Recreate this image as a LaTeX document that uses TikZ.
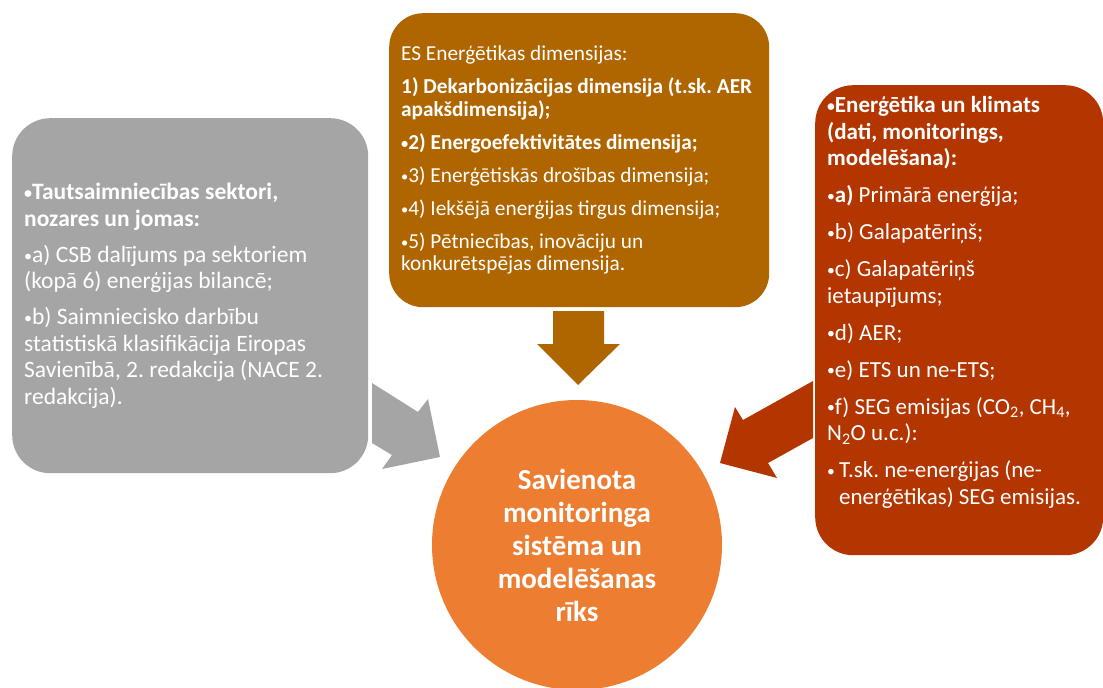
\documentclass[tikz,border=0pt]{standalone}
\usepackage{fontspec}
\setmainfont{Carlito}
\usepackage{xcolor}
\usetikzlibrary{positioning}
\definecolor{boxgray}{HTML}{A5A5A5}
\definecolor{boxbrown}{HTML}{AF6500}
\definecolor{boxred}{HTML}{B33500}
\definecolor{huborange}{HTML}{ED7D31}
\newcommand{\bul}{\raisebox{0.05em}{\scalebox{0.68}{•}}}
\tikzset{
  infobox/.style={rectangle, rounded corners=38pt, anchor=north west, inner sep=0pt},
  infotext/.style={anchor=west, text=white, align=left, inner sep=0pt},
}

\begin{document}
\frenchspacing
\begin{tikzpicture}[x=1pt, y=-1pt]
    \useasboundingbox (0,0) rectangle (1103,688);
    % bloku bultas
    \fill[boxbrown] (553,311) -- (604,311) -- (604,344) -- (620,344) -- (578,385) -- (537,344) -- (553,344) -- cycle;
    \fill[boxgray] (372,383) -- (418,412) -- (428,399) -- (440,457) -- (382,469) -- (392,455) -- (372,443) -- cycle;
    \fill[boxred] (813,381) -- (743,420) -- (735,407) -- (720,463) -- (777,478) -- (768,463) -- (813,438) -- cycle;

    % kastes
    \node[infobox, fill=boxgray, minimum width=356pt, minimum height=355pt] (sectors) at (12,118) {};
    \node[infobox, fill=boxbrown, rounded corners=34pt, minimum width=380pt, minimum height=294pt] (dims) at (389,13) {};
    \node[infobox, fill=boxred, minimum width=288pt, minimum height=470pt] (climate) at (815,85) {};

    \node[infotext, font=\fontsize{23.5}{26.5}\selectfont] (sectorstext) at ([xshift=12pt]sectors.west) {
      \textbf{\bul Tautsaimniecības sektori,}\\
      \textbf{nozares un jomas:}\\[9.5pt]
      \bul a) CSB dalījums pa sektoriem\\
      (kopā 6) enerģijas bilancē;\\[9.5pt]
      \bul b) Saimniecisko darbību\\
      statistiskā klasifikācija Eiropas\\
      Savienībā, 2. redakcija (NACE 2.\\
      redakcija).};

    \node[infotext, font=\fontsize{21.3}{22.5}\selectfont] (dimstext) at ([xshift=12pt]dims.west) {
      ES Enerģētikas dimensijas:\\[10.5pt]
      \textbf{1) Dekarbonizācijas dimensija (t.sk. AER}\\
      \textbf{apakšdimensija);}\\[10.5pt]
      \textbf{\bul 2) Energoefektivitātes dimensija;}\\[10.5pt]
      \bul 3) Enerģētiskās drošības dimensija;\\[10.5pt]
      \bul 4) Iekšējā enerģijas tirgus dimensija;\\[10.5pt]
      \bul 5) Pētniecības, inovāciju un\\
      konkurētspējas dimensija.};

    \node[infotext, font=\fontsize{23}{26.5}\selectfont] (climatetext) at ([xshift=12pt, yshift=18pt]climate.west) {
      \textbf{\bul Enerģētika un klimats}\\
      \textbf{(dati, monitorings,}\\
      \textbf{modelēšana):}\\[10.5pt]
      \bul\textbf{a)} Primārā enerģija;\\[10.5pt]
      \bul b) Galapatēriņš;\\[10.5pt]
      \bul c) Galapatēriņš\\
      ietaupījums;\\[10.5pt]
      \bul d) AER;\\[10.5pt]
      \bul e) ETS un ne-ETS;\\[10.5pt]
      \bul f) SEG emisijas (CO\textsubscript{2}, CH\textsubscript{4},\\
      N\textsubscript{2}O u.c.):\\[10.5pt]
      \makebox[12pt][l]{\bul}T.sk. ne-enerģijas (ne-\\
      \hspace*{12pt}enerģētikas) SEG emisijas.};

    \node[circle, fill=huborange, minimum size=290pt, inner sep=0pt, text=white, align=center,
      font=\bfseries\fontsize{29}{33}\selectfont] (hub) at (577,545) {
      Savienota\\monitoringa\\sistēma un\\modelēšanas\\rīks};
\end{tikzpicture}
\end{document}
